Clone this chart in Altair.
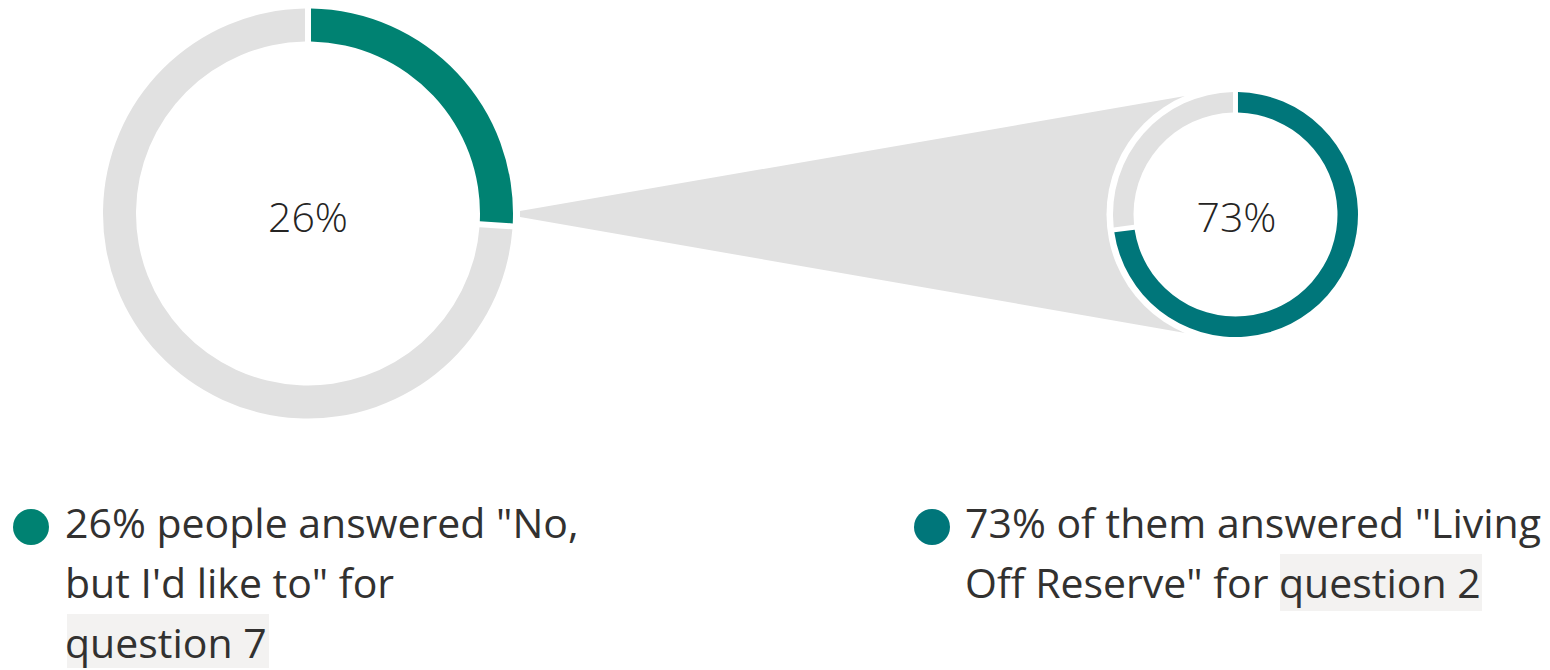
import altair as alt
import pandas as pd

# ---------------- data ----------------
shares = [26, 73]                       # highlighted share of each donut (%)
share_labels = ["26%", "73%"]
slice_names = ["q7_hit", "q7_rest", "q2_hit", "q2_rest"]
slice_colors = ["#008272", "#E1E1E1", "#00767A", "#E1E1E1"]
legend_left = ['26% people answered "No,', 'but I\'d like to" for', "question 7"]
legend_right = ['73% of them answered "Living', 'Off Reserve" for ', "question 2"]

# ---------------- layout (page pixels, converted to chart pixels) ----------------
W, H = 1534, 660
OFF = 8


def px(v):
    return v - OFF


FONT = "Open Sans"
FS = 41
TXT = "#323130"
GRAY = "#E1E1E1"
HILITE = "#F3F2F1"

big = dict(cx=px(308), cy=px(213.5), r=205, r2=172, pad=0.0224)
small = dict(cx=px(1235.5), cy=px(214.5), r=122.5, r2=102, pad=0.031)

xs = alt.Scale(domain=[0, W], nice=False, zero=False)
ys = alt.Scale(domain=[0, H], nice=False, zero=False, reverse=True)
color_scale = alt.Scale(domain=slice_names, range=slice_colors)


def donut(value, names, geo):
    df = pd.DataFrame({"name": names, "v": [value, 100 - value], "o": [0, 1]})
    return alt.Chart(df).mark_arc(
        radius=geo["r"], radius2=geo["r2"], padAngle=geo["pad"]
    ).encode(
        theta=alt.Theta("v:Q", stack=True, scale=alt.Scale(domain=[0, 100])),
        order=alt.Order("o:Q"),
        color=alt.Color("name:N", scale=color_scale, legend=None),
        x=alt.value(geo["cx"]),
        y=alt.value(geo["cy"]),
    )


# funnel connecting the two donuts
funnel_df = pd.DataFrame({
    "x": [px(520), px(1214)],
    "y": [px(211), px(91)],
    "y2": [px(217), px(338)],
})
funnel = alt.Chart(funnel_df).mark_area(color=GRAY, opacity=1).encode(
    x=alt.X("x:Q", scale=xs, axis=None),
    y=alt.Y("y:Q", scale=ys, axis=None),
    y2="y2:Q",
)

# white halo behind the small donut
halo = alt.Chart(pd.DataFrame({"a": [0]})).mark_circle(
    color="white", opacity=1, size=(2 * 129) ** 2
).encode(x=alt.value(small["cx"]), y=alt.value(small["cy"]))

big_donut = donut(shares[0], slice_names[0:2], big)
small_donut = donut(shares[1], slice_names[2:4], small)

# center labels
center_df = pd.DataFrame({
    "t": share_labels,
    "x": [px(308), px(1236.5)],
    "y": [px(232), px(232)],
})
centers = alt.Chart(center_df).mark_text(
    font=FONT, fontSize=FS, fontWeight=300, color="#252423",
    align="center", baseline="alphabetic",
).encode(
    x=alt.X("x:Q", scale=xs, axis=None),
    y=alt.Y("y:Q", scale=ys, axis=None),
    text="t:N",
)

# highlight boxes behind "question N"
box_df = pd.DataFrame({
    "x": [px(67), px(1280)],
    "x2": [px(269), px(1482)],
    "y": [px(614), px(554)],
    "y2": [px(672), px(611)],
})
boxes = alt.Chart(box_df).mark_rect(color=HILITE).encode(
    x=alt.X("x:Q", scale=xs, axis=None), x2="x2:Q",
    y=alt.Y("y:Q", scale=ys, axis=None), y2="y2:Q",
)

# legend dots
dot_df = pd.DataFrame({"name": ["q7_hit", "q2_hit"], "x": [px(31), px(932)], "y": [px(527), px(527)]})
dots = alt.Chart(dot_df).mark_circle(size=1296, opacity=1).encode(
    x=alt.X("x:Q", scale=xs, axis=None),
    y=alt.Y("y:Q", scale=ys, axis=None),
    color=alt.Color("name:N", scale=color_scale, legend=None),
)

# legend texts
leg_df = pd.DataFrame({
    "t": legend_left + legend_right,
    "x": [px(65), px(65), px(65), px(965), px(965), px(1279)],
    "y": [px(538), px(598), px(658), px(538), px(598), px(598)],
})
legend_text = alt.Chart(leg_df).mark_text(
    font=FONT, fontSize=FS, color=TXT, align="left", baseline="alphabetic"
).encode(
    x=alt.X("x:Q", scale=xs, axis=None),
    y=alt.Y("y:Q", scale=ys, axis=None),
    text="t:N",
)

chart = alt.layer(
    funnel, halo, big_donut, small_donut, centers, boxes, dots, legend_text
).properties(
    width=W, height=H, padding=0,
    autosize=alt.AutoSizeParams(type="none"),
).configure_view(strokeWidth=0)

chart.save("out.html", embed_options={"renderer": "svg", "actions": False})
